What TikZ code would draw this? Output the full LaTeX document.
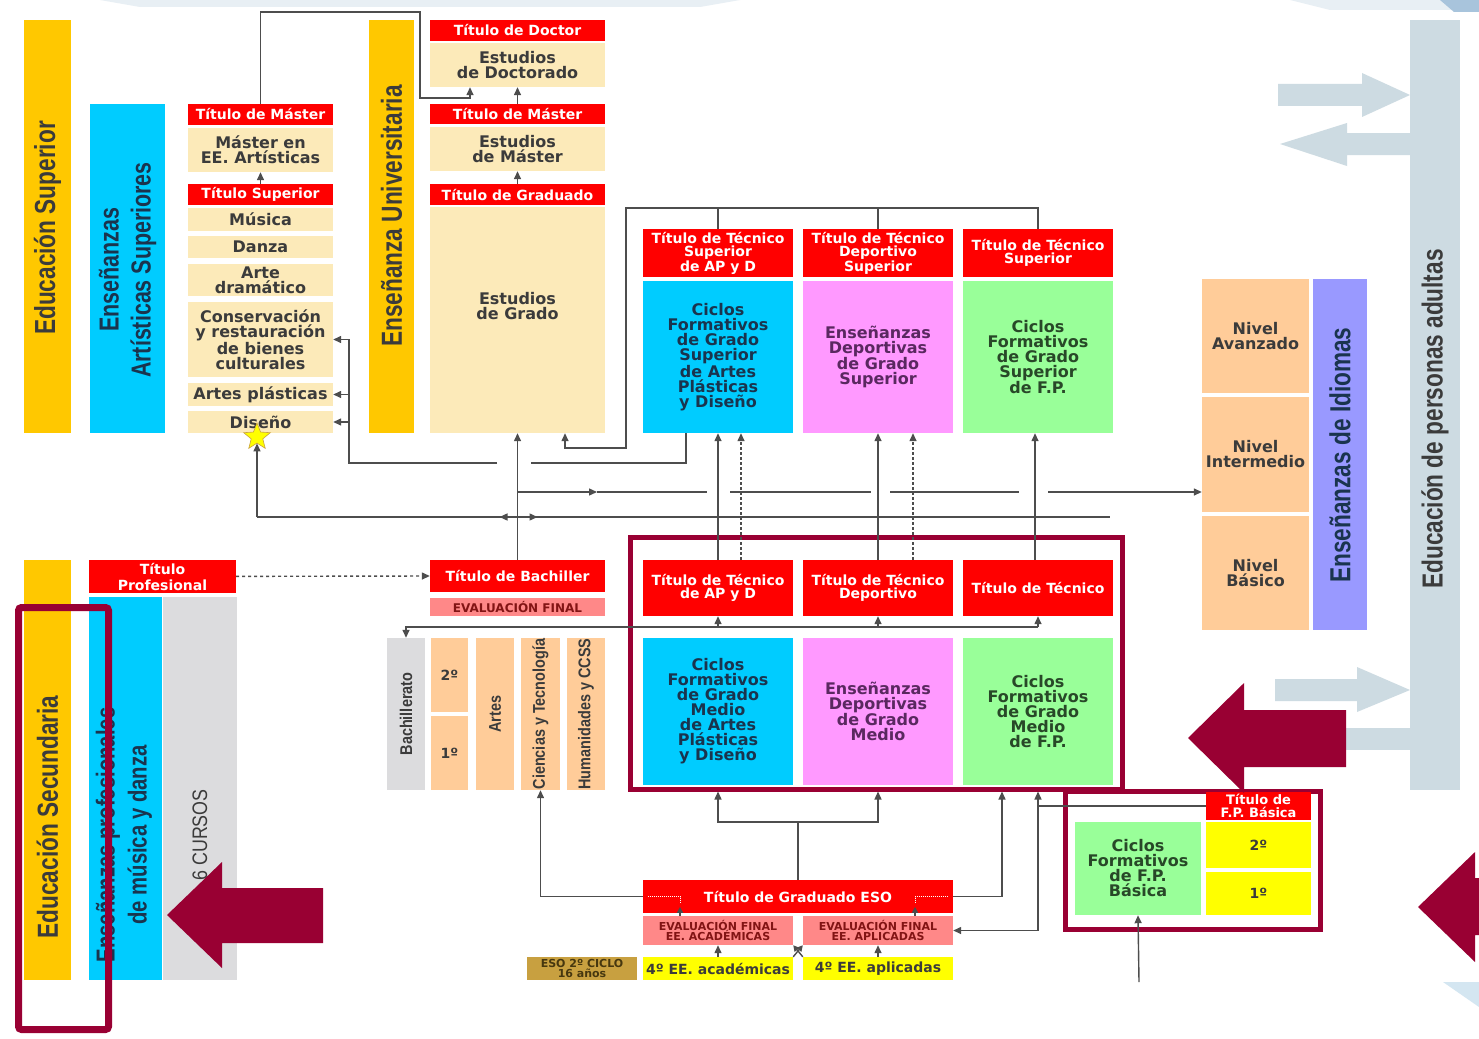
\documentclass[tikz,border=0pt]{standalone}
\usepackage{fontspec}
\usepackage{graphicx}
\setmainfont{DejaVu Sans}
\newfontfamily\vfont{Liberation Sans}[FakeStretch=0.85]
\newfontfamily\vfontb{Liberation Sans Bold}[FakeStretch=0.78]
\usetikzlibrary{arrows.meta,shapes.geometric,calc}
\definecolor{gold}{RGB}{255,200,0}
\definecolor{cyanb}{RGB}{0,204,255}
\definecolor{redb}{RGB}{255,0,0}
\definecolor{beige}{RGB}{252,234,185}
\definecolor{pinkb}{RGB}{255,153,255}
\definecolor{greenb}{RGB}{153,255,153}
\definecolor{peach}{RGB}{255,204,153}
\definecolor{lav}{RGB}{153,153,255}
\definecolor{adult}{RGB}{205,219,226}
\definecolor{grayb}{RGB}{220,220,222}
\definecolor{maroon}{RGB}{153,0,51}
\definecolor{evalp}{RGB}{255,136,136}
\definecolor{yel}{RGB}{255,255,0}
\definecolor{olive}{RGB}{200,160,64}
\definecolor{lgray}{RGB}{77,77,77}
\definecolor{dtext}{RGB}{59,59,59}
\definecolor{cytext}{RGB}{26,52,78}
\definecolor{pktext}{RGB}{90,40,96}
\definecolor{grtext}{RGB}{40,72,40}
\definecolor{evtext}{RGB}{130,20,20}
\definecolor{oltext}{RGB}{70,55,15}
\definecolor{decoA}{RGB}{232,239,244}
\definecolor{decoB}{RGB}{168,196,220}
\definecolor{decoC}{RGB}{212,230,241}
\newcommand\vsmall{\vfont\fontsize{17}{17}\selectfont}
\newcommand\vbig{\vfontb\fontsize{29}{32}\selectfont}

\begin{document}
\begin{tikzpicture}[x=1pt, y=-1pt,
  cell/.style = {inner sep=0, align=center, text=dtext, font=\fontsize{16}{15}\selectfont\bfseries},
  rbox/.style = {cell, fill=redb, text=white, font=\fontsize{14}{13.5}\selectfont\bfseries},
  bbox/.style = {cell, fill=beige},
  cbox/.style = {cell, fill=cyanb, text=cytext},
  pbox/.style = {cell, fill=pinkb, text=pktext},
  gbox/.style = {cell, fill=greenb, text=grtext},
  obox/.style = {cell, fill=peach},
  ebox/.style = {cell, fill=evalp, text=evtext, font=\fontsize{11}{10.5}\selectfont\bfseries},
  ybox/.style = {cell, fill=yel, font=\fontsize{14}{14}\selectfont\bfseries},
  vlab/.style = {rotate=90, align=center, font=\vbig, text=dtext},
  wh/.style 2 args = {minimum width=#1, minimum height=#2},
  link/.style = {draw=lgray, line width=1.4},
  arr/.style = {link, -{Triangle[length=8,width=7]}},
  dots/.style = {dash pattern=on 3pt off 2pt},
  mframe/.style = {draw=maroon, line width=5, inner sep=0}]
\useasboundingbox (0,0) rectangle (1479,1038);
\fill[white] (0,0) rectangle (1479,1038);
\fill[decoA] (100,0) -- (740,0) -- (700,7) -- (140,7) -- cycle;
\fill[decoA] (1290,0) -- (1479,0) -- (1479,10) -- (1330,10) -- cycle;
\fill[decoB] (1440,0) -- (1479,0) -- (1479,12) -- (1454,12) -- cycle;
\fill[decoC] (1443,982) -- (1479,982) -- (1479,1007) -- cycle;

% educacion superior
\node[cell, fill=gold, wh={47}{413}] (edsup) at (47.5,226.5) {};
\node[vlab] (edsupt) at (47.5,228) {Educación Superior};
\node[cell, fill=cyanb, wh={75}{329}] (eas) at (127.5,268.5) {};
\node[vlab, text=cytext, font=\vfontb\fontsize{27.5}{32}\selectfont] (east) at (127.5,270) {Enseñanzas\\Artísticas Superiores};
\node[rbox, wh={145}{21}] (tma) at (260.5,114.5) {Título de Máster};
\node[bbox, wh={145}{44}] (mea) at (260.5,150) {Máster en\\EE. Artísticas};
\node[rbox, wh={145}{21}] (tsu) at (260.5,194.5) {Título Superior};
\node[bbox, wh={145}{23}] (mus) at (260.5,219.5) {Música};
\node[bbox, wh={145}{22}] (dan) at (260.5,247) {Danza};
\node[bbox, wh={145}{32}] (ard) at (260.5,280) {Arte\\dramático};
\node[bbox, wh={145}{75}] (con) at (260.5,339.5) {Conservación\\y restauración\\de bienes\\culturales};
\node[bbox, wh={145}{23}] (apl) at (260.5,394.5) {Artes plásticas};
\node[bbox, wh={145}{22}] (dis) at (260.5,422) {Diseño};
\node[star, star points=5, star point ratio=2.3, minimum size=28, inner sep=0, fill=yel, draw=olive, line width=0.6] (st) at (257,437) {};

\node[cell, fill=gold, wh={45}{413}] (euni) at (391.5,226.5) {};
\node[vlab] (eunit) at (391.5,216) {Enseñanza Universitaria};
\node[rbox, wh={175}{21}] (tdo) at (517.5,30.5) {Título de Doctor};
\node[bbox, wh={175}{44}] (edo) at (517.5,65) {Estudios\\de Doctorado};
\node[rbox, wh={175}{20}] (tmu) at (517.5,114) {Título de Máster};
\node[bbox, wh={175}{44}] (emu) at (517.5,149) {Estudios\\de Máster};
\node[rbox, wh={175}{21}] (tgr) at (517.5,194.5) {Título de Graduado};
\node[bbox, wh={175}{226}] (egr) at (517.5,320) {Estudios\\de Grado\\[14pt]};

% grado superior
\node[rbox, wh={150}{48}] (tsap) at (718,253) {Título de Técnico\\Superior\\de AP y D};
\node[cbox, wh={150}{152}] (csap) at (718,357) {Ciclos\\Formativos\\de Grado\\Superior\\de Artes\\Plásticas\\y Diseño};
\node[rbox, wh={150}{48}] (tsde) at (878,253) {Título de Técnico\\Deportivo\\Superior};
\node[pbox, wh={150}{152}] (esde) at (878,357) {Enseñanzas\\Deportivas\\de Grado\\Superior};
\node[rbox, wh={150}{48}] (tsfp) at (1038,253) {Título de Técnico\\Superior};
\node[gbox, wh={150}{152}] (csfp) at (1038,357) {Ciclos\\Formativos\\de Grado\\Superior\\de F.P.};

% grado medio
\node[mframe, wh={492}{252}] (fmid) at (876,663) {};
\node[rbox, wh={150}{56}] (tmap) at (718,588) {Título de Técnico\\de AP y D};
\node[rbox, wh={150}{56}] (tmde) at (878,588) {Título de Técnico\\Deportivo};
\node[rbox, wh={150}{56}] (tmfp) at (1038,588) {Título de Técnico};
\node[cbox, wh={150}{147}] (cmap) at (718,711.5) {Ciclos\\Formativos\\de Grado\\Medio\\de Artes\\Plásticas\\y Diseño};
\node[pbox, wh={150}{147}] (emde) at (878,711.5) {Enseñanzas\\Deportivas\\de Grado\\Medio};
\node[gbox, wh={150}{147}] (cmfp) at (1038,711.5) {Ciclos\\Formativos\\de Grado\\Medio\\de F.P.};

% bachillerato
\node[rbox, wh={175}{32}] (tba) at (517.5,576) {Título de Bachiller};
\node[ebox, wh={175}{18}, font=\fontsize{12}{12}\selectfont\bfseries] (evb) at (517.5,607) {EVALUACIÓN FINAL};
\node[cell, fill=grayb, wh={38}{152}] (bach) at (406,714) {\rotatebox{90}{\vsmall Bachillerato}};
\node[obox, wh={37}{74}, font=\fontsize{14}{14}\selectfont\bfseries] (b2) at (449.5,675) {2º};
\node[obox, wh={37}{74}, font=\fontsize{14}{14}\selectfont\bfseries] (b1) at (449.5,753) {1º};
\node[obox, wh={38}{152}] (bart) at (495,714) {\rotatebox{90}{\vsmall Artes}};
\node[obox, wh={39}{152}] (bct) at (540.5,714) {\rotatebox{90}{\vsmall Ciencias y Tecnología}};
\node[obox, wh={38}{152}] (bhu) at (586,714) {\rotatebox{90}{\vsmall Humanidades y CCSS}};

% secundaria
\node[cell, fill=gold, wh={47}{420}] (edsec) at (47.5,770) {};
\node[vlab] (edsect) at (47.5,817) {Educación Secundaria};
\node[rbox, wh={147}{33}, font=\fontsize{14}{16}\selectfont\bfseries] (tpr) at (162.5,576.5) {Título\\Profesional};
\node[cell, fill=cyanb, wh={73}{383}] (empd) at (125.5,788.5) {};
\node[cell, fill=grayb, wh={74}{383}] (cur) at (199.5,788.5) {};
\node[vlab, text=cytext, font=\vfontb\fontsize{26}{32}\selectfont] (empdt) at (124,835) {Enseñanzas profesionales\\de música y danza};
\node[vlab, font=\vfont\fontsize{21}{21}\selectfont] (curt) at (200,835) {6 CURSOS};

% ESO
\node[rbox, wh={310}{33}] (teso) at (798,896.5) {Título de Graduado ESO};
\node[ebox, wh={150}{29}] (evac) at (718,930.5) {EVALUACIÓN FINAL\\EE. ACADÉMICAS};
\node[ebox, wh={150}{29}] (evap) at (878,930.5) {EVALUACIÓN FINAL\\EE. APLICADAS};
\node[ybox, wh={150}{23}] (cac) at (718,968.5) {4º EE. académicas};
\node[ybox, wh={150}{23}] (cap) at (878,968.5) {4º EE. aplicadas};
\node[cell, fill=olive, text=oltext, wh={110}{23}, font=\fontsize{11}{9.5}\selectfont\bfseries] (eso2) at (582,968.5) {ESO 2º CICLO\\16 años};

% FP basica
\node[mframe, wh={255}{138}] (ffpb) at (1193,860.5) {};
\node[gbox, wh={126}{93}] (cfb) at (1138,868.5) {Ciclos\\Formativos\\de F.P.\\Básica};
\node[rbox, wh={105}{28}, font=\fontsize{13}{12.5}\selectfont\bfseries] (tfb) at (1258.5,806) {Título de\\F.P. Básica};
\node[ybox, wh={105}{46}] (fb2) at (1258.5,845) {2º};
\node[ybox, wh={105}{43}] (fb1) at (1258.5,893.5) {1º};

% idiomas y adultos
\node[obox, wh={107}{114}] (nav) at (1255.5,336) {Nivel\\Avanzado};
\node[obox, wh={107}{115}] (nin) at (1255.5,454.5) {Nivel\\Intermedio};
\node[obox, wh={107}{114}] (nba) at (1255.5,573) {Nivel\\Básico};
\node[cell, fill=lav, wh={54}{351}] (idi) at (1340,454.5) {};
\node[vlab, text=cytext] (idit) at (1340,455) {Enseñanzas de Idiomas};
\node[cell, fill=adult, wh={50}{770}] (adu) at (1435,405) {};
\node[vlab] (adut) at (1435,419) {Educación de personas adultas};
\fill[adult] (1278,84) -- (1362,84) -- (1362,73) -- (1410,95) -- (1362,117) -- (1362,106) -- (1278,106) -- cycle;
\fill[adult] (1410,133) -- (1347,133) -- (1347,123) -- (1280,144) -- (1347,166) -- (1347,155) -- (1410,155) -- cycle;
\fill[adult] (1275,679) -- (1357,679) -- (1357,667) -- (1410,690) -- (1357,712) -- (1357,701) -- (1275,701) -- cycle;
\fill[adult] (1300,728) -- (1410,728) -- (1410,750) -- (1300,750) -- cycle;

% connectors
\coordinate (j1) at (470,98);
\coordinate (tp) at (626,208);
\coordinate (g1) at (565,448);
\coordinate (c1) at (686,463);
\coordinate (c2) at (349,463);
\coordinate (c3) at (531,463);
\coordinate (c4) at (497,463);
\draw[arr] (tsu) -- (mea);
\draw[arr] (tma.north) |- (420,12) |- (j1) -- (j1 |- edo.south);
\draw[arr] (tmu) -- (edo);
\draw[arr] (tgr) -- (emu);
\draw[arr] (tba) -- (egr);
\draw[arr] (tsfp.north) |- (tp) |- (g1) -- (g1 |- egr.south);
\draw[link] (tsap.north) -- (tsap.north |- tp);
\draw[link] (tsde.north) -- (tsde.north |- tp);
\draw[link] (c1 |- csap.south) -- (c1) -- (c3);
\draw[arr] (c4) -- (c2) |- (con.east);
\draw[arr] (c2 |- apl.east) -- (apl.east);
\draw[arr] (c2 |- dis.east) -- (dis.east);

\coordinate (r0) at (517.5,492);
\coordinate (r1) at (597,492);
\coordinate (r2) at (707,492);
\coordinate (r3) at (730,492);
\coordinate (r4) at (871,492);
\coordinate (r5) at (890,492);
\coordinate (r6) at (1019,492);
\coordinate (r7) at (1048,492);
\draw[arr] (r0) -- (r1);
\draw[link] (r1) -- (r2);
\draw[link] (r3) -- (r4);
\draw[link] (r5) -- (r6);
\draw[arr] (r7) -- (nin.west |- r7);

\coordinate (d0) at (257,517);
\coordinate (d1) at (1110,517);
\coordinate (dm) at (517.5,517);
\draw[arr] (d0) -- (st.south);
\draw[link] (d0) -- (d1);
\draw[arr] (dm) -- ++(-18,0);
\draw[arr] (dm) -- ++(20,0);

\draw[arr] (tmap) -- (csap);
\draw[arr, dots] ($(tmap.north)+(23,0)$) -- ($(csap.south)+(23,0)$);
\draw[arr] (tmde) -- (esde);
\draw[arr, dots] ($(tmde.north)+(35,0)$) -- ($(esde.south)+(35,0)$);
\draw[arr] (tmfp.north -| 1035,0) -- (csfp.south -| 1035,0);

\draw[arr, dashed] (tpr) -- (tba.west);
\coordinate (h1) at (1038,627);
\draw[arr] (h1) -| (bach.north);
\draw[arr] (tmap.south |- h1) -- (tmap.south);
\draw[arr] (tmde.south |- h1) -- (tmde.south);
\draw[arr] (h1) -- (tmfp.south);

\draw[arr] (teso.west) -| (bct.south);
\coordinate (e1) at (798,822);
\coordinate (e2) at (1002,896.5);
\coordinate (e3) at (1038,930.5);
\draw[arr] (teso.north) -- (e1) -| (cmap.south |- fmid.south);
\draw[arr] (e1) -| (emde.south |- fmid.south);
\draw[arr] (teso.east) -- (e2) -- (e2 |- fmid.south);
\draw[arr] (tfb.west) -| (e3) -- (evap.east);
\draw[arr] (e3 |- tfb.west) -- (e3 |- fmid.south);
\draw[arr] (cac) -- (evac);
\draw[arr] (cap) -- (evap);
\draw[arr, -{Triangle[length=6,width=6]}] (cac.north east) -- (evap.south west);
\draw[arr, -{Triangle[length=6,width=6]}] (cap.north west) -- (evac.south east);
\draw[white, densely dotted, line width=1] ($(teso.west)+(5,0)$) -- ++(33,0) -- ++(0,6);
\draw[white, densely dotted, line width=1] ($(teso.east)+(-5,0)$) -- ++(-33,0) -- ++(0,6);
\draw[arr, -{Triangle[length=6,width=6]}] ($(evac.north)+(-38,0)$) -- ++(0,-9);
\draw[arr, -{Triangle[length=6,width=6]}] ($(evap.north)+(37,0)$) -- ++(0,-9);
\coordinate (f1) at (1139,982);
\draw[arr] (f1) -- (cfb.south);

% marcas
\draw[draw=maroon, line width=7, rounded corners=3] (18.5,607.5) rectangle (108.5,1029.5);
\fill[maroon] (167,915) -- (222,862) -- (222,888) -- (323,888) -- (323,943) -- (222,943) -- (222,968) -- cycle;
\fill[maroon] (1188,738) -- (1244,683) -- (1244,710) -- (1346,710) -- (1346,767) -- (1244,767) -- (1244,793) -- cycle;
\fill[maroon] (1418,907) -- (1475,852) -- (1475,878) -- (1479,878) -- (1479,935) -- (1475,935) -- (1475,962) -- cycle;
\end{tikzpicture}
\end{document}
